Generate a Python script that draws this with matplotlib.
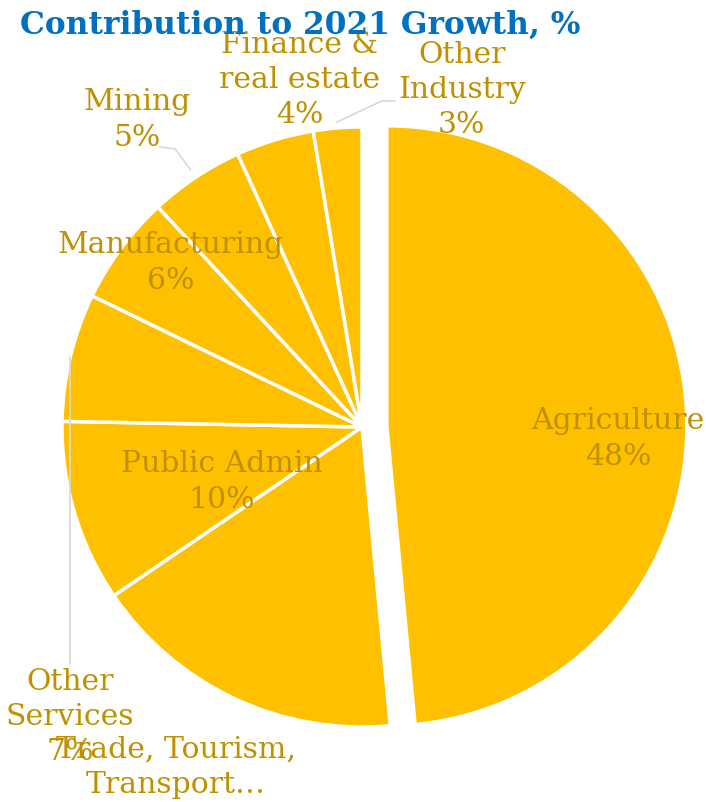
import numpy as np
import matplotlib.pyplot as plt

sectors = ['Agriculture', 'Trade, Tourism,\nTransport…', 'Public Admin', 'Other\nServices',
           'Manufacturing', 'Mining', 'Finance &\nreal estate', 'Other\nIndustry']
shares = [48.5, 17.0, 9.8, 6.9, 5.9, 5.1, 4.2, 2.6]
show_pct = [True, False, True, True, True, True, True, True]

# label placement (data units, pie radius = 1)
label_xy = [(0.853, -0.037), (-0.62, -1.13), (-0.467, -0.18), (-0.973, -0.963),
            (-0.637, 0.55), (-0.75, 1.027), (-0.207, 1.16), (0.333, 1.127)]
explode = [0.083, 0, 0, 0, 0, 0, 0, 0]

gold = '#FFC000'
lab_col = '#BF9000'
plt.rcParams['font.family'] = ['DejaVu Serif']

fig = plt.figure(figsize=(7.06, 8.03), dpi=100)
ax = fig.add_axes([0, 0, 1, 1])
wedges, _ = ax.pie(shares, explode=explode, startangle=90, counterclock=False,
                   colors=[gold] * len(shares), radius=1,
                   wedgeprops=dict(edgecolor='white', linewidth=2.5))
ax.set_xlim(-362 / 300, 344 / 300)
ax.set_ylim(-375 / 300, 428 / 300)
ax.axis('off')

for name, v, p, (x, y) in zip(sectors, shares, show_pct, label_xy):
    txt = name + ('\n%.0f%%' % v if p else '')
    ax.text(x, y, txt, ha='center', va='center', color=lab_col, fontsize=21.5,
            linespacing=1.33, zorder=5)

# leader lines
def rim(i, r=1.0):
    w = wedges[i]
    a = np.deg2rad((w.theta1 + w.theta2) / 2)
    return r * np.cos(a), r * np.sin(a)

lc = '#D9D9D9'
x0, y0 = rim(3)
ax.plot([x0, x0], [y0, -0.79], color=lc, lw=1.2, zorder=1)
x0, y0 = rim(5, 1.03)
ax.plot([x0, -0.623, -0.673], [y0, 0.927, 0.933], color=lc, lw=1.2)
x0, y0 = rim(7, 1.02)
ax.plot([x0, 0.067, 0.11], [y0, 1.087, 1.087], color=lc, lw=1.2)

fig.text(0.028, 0.988, 'Contribution to 2021 Growth, %', ha='left', va='top',
         color='#0070C0', fontsize=22.5, fontweight='bold')

fig.savefig('out.png', dpi=100)
